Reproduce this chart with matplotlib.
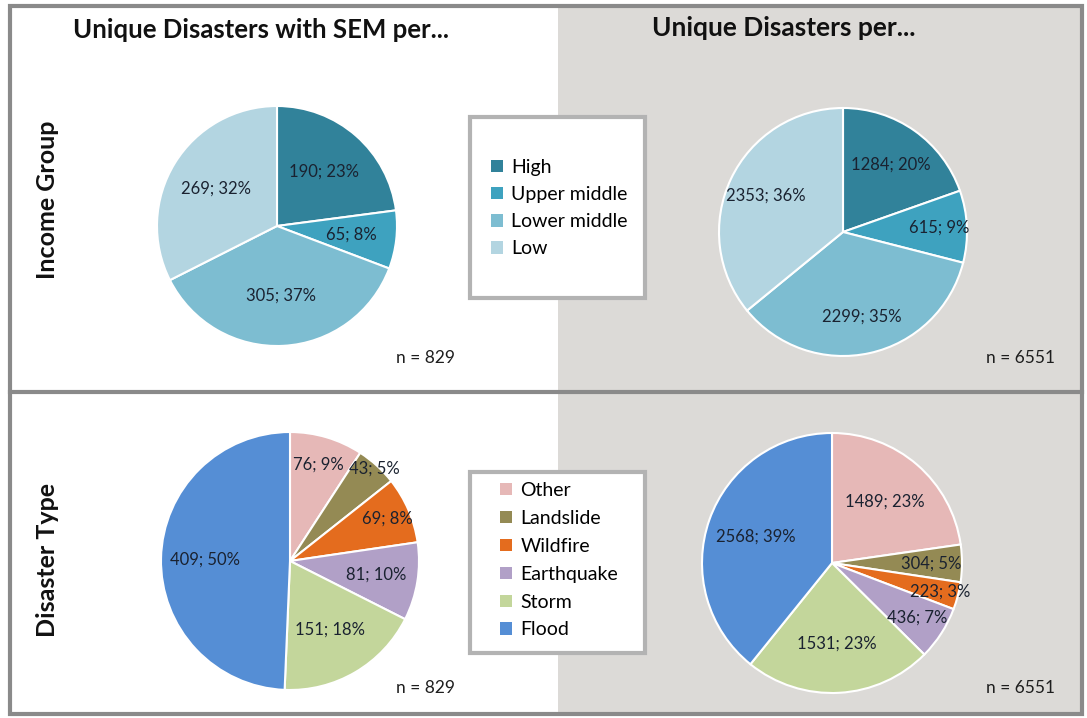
import numpy as np
import matplotlib.pyplot as plt
from matplotlib.patches import Rectangle, Patch

plt.rcParams["font.family"] = ["Lato", "DejaVu Sans"]

# =========================
# Data
# =========================
income_labels = ["High", "Upper middle", "Lower middle", "Low"]
income_sem = [190, 65, 305, 269]
income_sem_pct = [23, 8, 37, 32]
income_all = [1284, 615, 2299, 2353]
income_all_pct = [20, 9, 35, 36]

type_labels = ["Other", "Landslide", "Wildfire", "Earthquake", "Storm", "Flood"]
type_sem = [76, 43, 69, 81, 151, 409]
type_sem_pct = [9, 5, 8, 10, 18, 50]
type_all = [1489, 304, 223, 436, 1531, 2568]
type_all_pct = [23, 5, 3, 7, 23, 39]

col_titles = ["Unique Disasters with SEM per...", "Unique Disasters per..."]
row_titles = ["Income Group", "Disaster Type"]

income_colors = ["#31829a", "#3ea2bf", "#7dbdd1", "#b3d5e1"]
type_colors = ["#e6b8b7", "#948a54", "#e46c1e", "#b1a0c7", "#c3d69b", "#558ed5"]

W, H = 1087, 718


def Y(py):
    return H - py


fig = plt.figure(figsize=(W / 100, H / 100), dpi=100)
ax = fig.add_axes([0, 0, 1, 1])

# -------------------------
# Background panels
# -------------------------
ax.add_patch(Rectangle((10, Y(713)), 548, 708, facecolor="white", edgecolor="none", zorder=0))
ax.add_patch(Rectangle((558, Y(713)), 524, 708, facecolor="#dcdad7", edgecolor="none", zorder=0))
ax.add_patch(Rectangle((10, Y(714)), 1072, 708, facecolor="none", edgecolor="#8a8a8a", linewidth=3, zorder=5))
ax.plot([10, 1082], [Y(392), Y(392)], color="#8a8a8a", linewidth=3, zorder=5)


def draw_pie(values, pcts, colors, center, radius, dists):
    wedges, _ = ax.pie(values, colors=colors, startangle=90, counterclock=False,
                       center=(center[0], Y(center[1])), radius=radius,
                       wedgeprops=dict(edgecolor="white", linewidth=1.5), frame=True)
    for w, v, p, d in zip(wedges, values, pcts, dists):
        mid = np.deg2rad((w.theta1 + w.theta2) / 2)
        x = center[0] + d * radius * np.cos(mid)
        y = Y(center[1]) + d * radius * np.sin(mid)
        ax.text(x, y, f"{v}; {p}%", ha="center", va="center",
                fontsize=12, color="#1a2230", zorder=6)
    return wedges


draw_pie(income_sem, income_sem_pct, income_colors, (277, 226), 120, [0.6, 0.62, 0.58, 0.6])
draw_pie(income_all, income_all_pct, income_colors, (843, 232), 124, [0.67, 0.78, 0.7, 0.69])
draw_pie(type_sem, type_sem_pct, type_colors, (290, 561), 129, [0.78, 0.97, 0.82, 0.68, 0.62, 0.66])
draw_pie(type_all, type_all_pct, type_colors, (832, 563), 130, [0.62, 0.76, 0.86, 0.78, 0.62, 0.62])

ax.set_xlim(0, W)
ax.set_ylim(0, H)
ax.set_aspect("equal")
ax.axis("off")

# -------------------------
# Titles and labels
# -------------------------
ax.text(261, Y(30), col_titles[0], ha="center", va="center", fontsize=18.5, fontweight="bold", color="#111111")
ax.text(784, Y(28), col_titles[1], ha="center", va="center", fontsize=19, fontweight="bold", color="#111111")
ax.text(48, Y(200), row_titles[0], ha="center", va="center", rotation=90, fontsize=18, fontweight="bold", color="#111111")
ax.text(48, Y(560), row_titles[1], ha="center", va="center", rotation=90, fontsize=18, fontweight="bold", color="#111111")

for x, y, n in [(425, 358, 829), (1020, 358, 6551), (425, 688, 829), (1020, 688, 6551)]:
    ax.text(x, Y(y), f"n = {n}", ha="center", va="center", fontsize=12.5, color="#1e1e1e")

# -------------------------
# Legend boxes
# -------------------------
ax.add_patch(Rectangle((470, Y(298)), 175, 181, facecolor="white", edgecolor="#b3b3b3", linewidth=3, zorder=4))
ax.add_patch(Rectangle((470, Y(653)), 175, 181, facecolor="white", edgecolor="#b3b3b3", linewidth=3, zorder=4))

leg1 = ax.legend([Patch(facecolor=c) for c in income_colors], income_labels,
                 loc="upper left", bbox_to_anchor=(491 / W, 1 - 159 / H), frameon=False,
                 fontsize=14, handlelength=0.6, handleheight=0.6, handletextpad=0.45,
                 labelspacing=0.52, borderpad=0, borderaxespad=0)
leg1.set_zorder(7)
ax.add_artist(leg1)
leg2 = ax.legend([Patch(facecolor=c) for c in type_colors], type_labels,
                 loc="upper left", bbox_to_anchor=(500 / W, 1 - 482 / H), frameon=False,
                 fontsize=14, handlelength=0.6, handleheight=0.6, handletextpad=0.45,
                 labelspacing=0.56, borderpad=0, borderaxespad=0)
leg2.set_zorder(7)

fig.savefig("out.png", dpi=100)
